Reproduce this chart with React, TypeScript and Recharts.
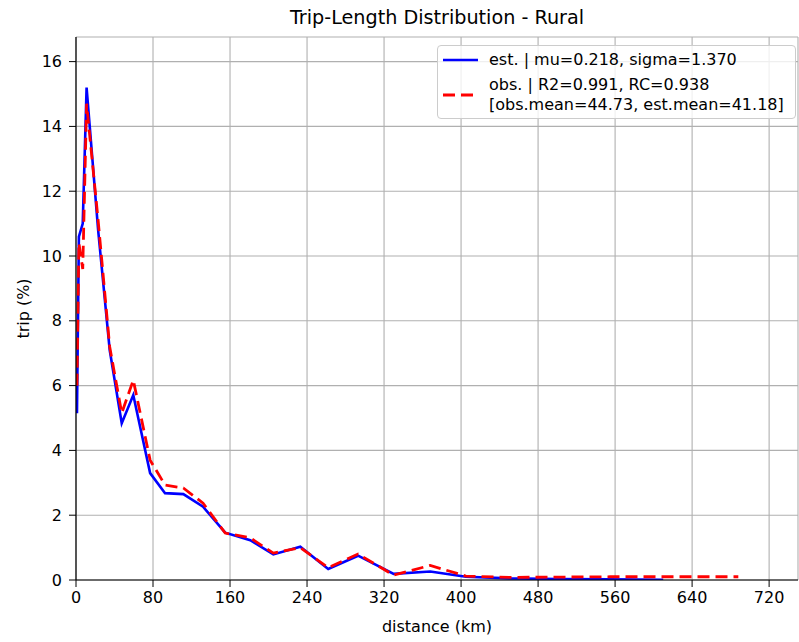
import { CartesianGrid, Line, LineChart, XAxis, YAxis } from 'recharts';

// bin centres (km) and trip share (%)
const distance = [1, 3, 7, 11, 23, 35, 47.5, 59.5, 77, 92.5, 111.5, 132, 155, 181, 205, 233, 262, 293, 330, 368, 405, 450, 500, 555, 610, 688];
const est = [5.15, 10.6, 11.0, 15.2, 10.8, 7.1, 4.84, 5.71, 3.3, 2.68, 2.65, 2.26, 1.46, 1.23, 0.79, 1.03, 0.34, 0.75, 0.19, 0.26, 0.1, 0.05, 0.03, 0.02, 0.01, null];
const obs = [6.0, 10.4, 9.6, 14.7, 11.1, 7.2, 5.15, 6.17, 3.7, 2.93, 2.84, 2.37, 1.45, 1.3, 0.83, 1.0, 0.38, 0.8, 0.15, 0.45, 0.12, 0.08, 0.09, 0.1, 0.1, 0.1];

const xTicks = [0, 80, 160, 240, 320, 400, 480, 560, 640, 720];
const yTicks = [0, 2, 4, 6, 8, 10, 12, 14, 16];

const title = 'Trip-Length Distribution - Rural';
const estLabel = 'est. | mu=0.218, sigma=1.370';
const obsLabel = ['obs. | R2=0.991, RC=0.938', '[obs.mean=44.73, est.mean=41.18]'];

const font = '"DejaVu Sans", sans-serif';
const fs = 16;

export default function App() {
    const data = distance.map((d, i) => ({ distance: d, est: est[i], obs: obs[i] }));

    return (
        <div style={{ position: 'absolute', left: 0, top: 0, width: 799, height: 642, background: '#fff', fontFamily: font }}>
            <div style={{ position: 'absolute', top: 6, left: 76, width: 722, textAlign: 'center', fontSize: 19.2, color: '#000' }}>
                {title}
            </div>
            <LineChart
                width={799}
                height={642}
                data={data}
                margin={{ top: 37, right: 1, left: 0, bottom: 0 }}
                style={{ fontFamily: font }}
            >
                <CartesianGrid stroke="#b0b0b0" strokeWidth={1.1} />
                <XAxis
                    dataKey="distance"
                    type="number"
                    domain={[0, 750]}
                    ticks={xTicks}
                    allowDataOverflow
                    height={62}
                    tickSize={7}
                    tickMargin={5}
                    tick={{ fill: '#000', fontSize: fs }}
                    tickLine={{ stroke: '#000' }}
                    axisLine={{ stroke: '#000', strokeWidth: 1.2 }}
                    label={{ value: 'distance (km)', position: 'insideBottom', offset: 10, fill: '#000', fontSize: fs }}
                />
                <XAxis xAxisId="top" orientation="top" dataKey="distance" type="number" domain={[0, 750]} height={0} tick={false} tickLine={false} axisLine={{ stroke: '#000', strokeWidth: 1.2 }} />
                <YAxis
                    type="number"
                    domain={[0, 16.76]}
                    ticks={yTicks}
                    allowDataOverflow
                    width={76}
                    tickSize={7}
                    tickMargin={7}
                    tick={{ fill: '#000', fontSize: fs }}
                    tickLine={{ stroke: '#000' }}
                    axisLine={{ stroke: '#000', strokeWidth: 1.2 }}
                    label={{ value: 'trip (%)', angle: -90, position: 'insideLeft', offset: 23, fill: '#000', fontSize: fs, style: { textAnchor: 'middle' } }}
                />
                <Line dataKey="est" stroke="#0000ff" strokeWidth={2.6} dot={false} isAnimationActive={false} />
                <Line dataKey="obs" stroke="#ff0000" strokeWidth={2.8} strokeDasharray="12 6" dot={false} isAnimationActive={false} />
            </LineChart>
            <div
                style={{
                    position: 'absolute', left: 437, top: 45, width: 357, height: 72,
                    border: '1px solid #cccccc', borderRadius: 4, background: 'rgba(255,255,255,0.8)',
                    fontSize: fs, color: '#000', lineHeight: '20px',
                }}
            >
                <svg width={40} height={72} style={{ position: 'absolute', left: 4, top: 0 }}>
                    <line x1={1} x2={36} y1={14} y2={14} stroke="#0000ff" strokeWidth={2.6} />
                    <line x1={1} x2={36} y1={49} y2={49} stroke="#ff0000" strokeWidth={2.8} strokeDasharray="12 6" />
                </svg>
                <div style={{ position: 'absolute', left: 51, top: 4, whiteSpace: 'nowrap' }}>{estLabel}</div>
                <div style={{ position: 'absolute', left: 51, top: 29, whiteSpace: 'nowrap' }}>
                    {obsLabel[0]}<br />{obsLabel[1]}
                </div>
            </div>
        </div>
    );
}
